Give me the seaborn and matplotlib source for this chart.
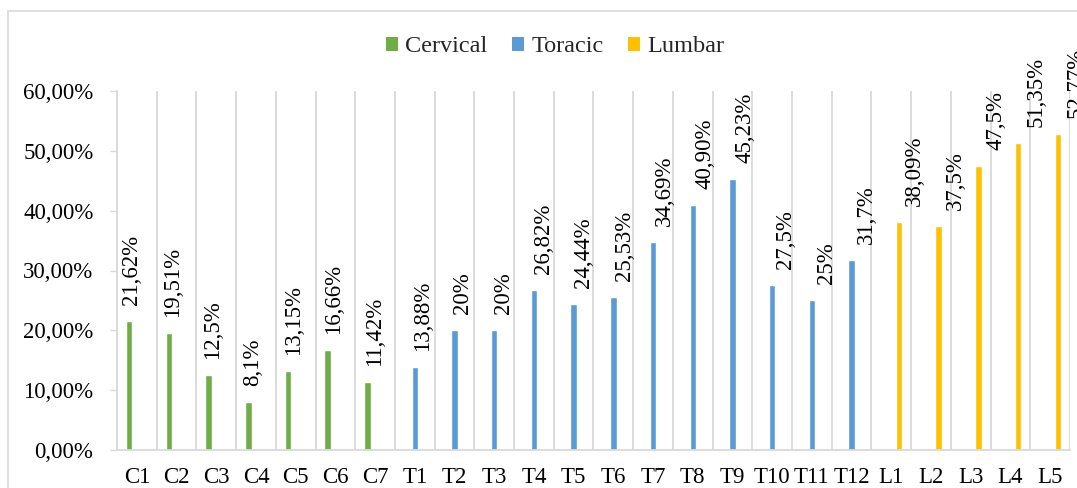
import pandas as pd
import numpy as np
import matplotlib.pyplot as plt
import seaborn as sns
from matplotlib.patches import Rectangle, Patch
from matplotlib.ticker import FixedLocator

cervical = ["C1", "C2", "C3", "C4", "C5", "C6", "C7"]
toracic = ["T1", "T2", "T3", "T4", "T5", "T6", "T7", "T8", "T9", "T10", "T11", "T12"]
lumbar = ["L1", "L2", "L3", "L4", "L5"]

cervical_vals = [21.62, 19.51, 12.5, 8.1, 13.15, 16.66, 11.42]
toracic_vals = [13.88, 20, 20, 26.82, 24.44, 25.53, 34.69, 40.90, 45.23, 27.5, 25, 31.7]
lumbar_vals = [38.09, 37.5, 47.5, 51.35, 52.77]

cervical_labels = ["21,62%", "19,51%", "12,5%", "8,1%", "13,15%", "16,66%", "11,42%"]
toracic_labels = ["13,88%", "20%", "20%", "26,82%", "24,44%", "25,53%", "34,69%",
                  "40,90%", "45,23%", "27,5%", "25%", "31,7%"]
lumbar_labels = ["38,09%", "37,5%", "47,5%", "51,35%", "52,77%"]

y_ticks = [0, 10, 20, 30, 40, 50, 60]
y_tick_labels = ["0,00%", "10,00%", "20,00%", "30,00%", "40,00%", "50,00%", "60,00%"]

regions = ["Cervical", "Toracic", "Lumbar"]
colors = ["#70AD47", "#5B9BD5", "#FFC000"]

df = pd.DataFrame({
    "level": cervical + toracic + lumbar,
    "value": cervical_vals + toracic_vals + lumbar_vals,
    "region": ["Cervical"] * len(cervical) + ["Toracic"] * len(toracic) + ["Lumbar"] * len(lumbar),
    "label": cervical_labels + toracic_labels + lumbar_labels,
})
order = list(df["level"])

sns.set_theme(style="white")
plt.rcParams["font.family"] = ["Liberation Serif", "DejaVu Serif"]

fig = plt.figure(figsize=(10.77, 4.88), dpi=100)
ax = fig.add_axes([117 / 1077, 38 / 488, (1070 - 117) / 1077, (450 - 91) / 488])

sns.barplot(data=df, x="level", y="value", hue="region", order=order,
            hue_order=regions, palette=colors, dodge=True, width=0.58, gap=0.15,
            errorbar=None, ax=ax, saturation=1, legend=False)

# rotated value labels (they drift a little to the right across the chart, like the original)
k = 0
for cont, reg in zip(ax.containers, regions):
    labs = list(df.loc[df["region"] == reg, "label"])
    for bar, lab in zip(cont, labs):
        dx = (2.5 + 0.7 * k) * 0.72
        ax.annotate(lab, (bar.get_x() + bar.get_width() / 2, bar.get_height()),
                    xytext=(dx, 11.5), textcoords="offset points",
                    rotation=90, ha="center", va="bottom", fontsize=16.5,
                    color="black", annotation_clip=False, clip_on=False)
        k += 1

ax.set_ylim(0, 60)
ax.set_xlim(-0.5, len(order) - 0.5)
ax.set_yticks(y_ticks)
ax.set_yticklabels(y_tick_labels)
ax.set_xlabel("")
ax.set_ylabel("")

ax.xaxis.set_minor_locator(FixedLocator(np.arange(-0.5, len(order), 1)))
ax.grid(which="minor", axis="x", color="#d9d9d9", linewidth=1.3)
ax.grid(which="major", axis="both", visible=False)
ax.tick_params(axis="x", which="both", length=0, labelsize=16.5, pad=12, colors="black")
ax.tick_params(axis="y", length=5, width=1, labelsize=16.5, pad=12, colors="black", direction="out")
ax.tick_params(axis="y", color="#d9d9d9")
ax.yaxis.set_tick_params(left=True)

for side in ["top", "right"]:
    ax.spines[side].set_visible(False)
for side in ["left", "bottom"]:
    ax.spines[side].set_color("#d9d9d9")
    ax.spines[side].set_linewidth(1.3)

handles = [Patch(facecolor=c, edgecolor="none", label=r) for r, c in zip(regions, colors)]
fig.legend(handles=handles, loc="center", bbox_to_anchor=(555 / 1077, 1 - 47 / 488),
           ncol=3, frameon=False, fontsize=17.5, handlelength=0.5, handleheight=0.5,
           handletextpad=0.3, columnspacing=1.0)

fig.patches.append(Rectangle((8 / 1077, -0.1), 1.2, 1.1 - 10.5 / 488, fill=False,
                             edgecolor="#d9d9d9", linewidth=1.2,
                             transform=fig.transFigure, figure=fig))

plt.savefig("out.png", dpi=100)
plt.close()
